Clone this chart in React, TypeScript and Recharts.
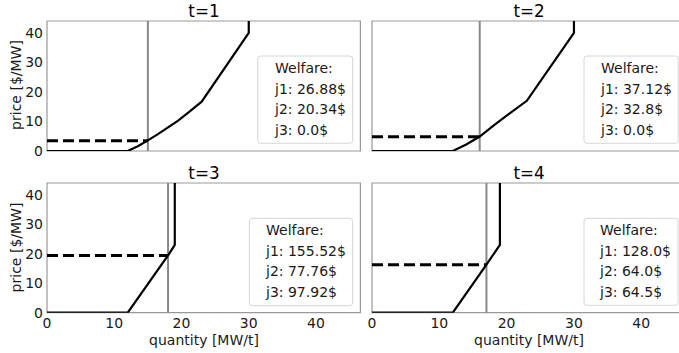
import { LineChart, Line, XAxis, YAxis, ReferenceLine, ReferenceArea } from 'recharts'

const periods = ['t=1', 't=2', 't=3', 't=4']
const clearedQuantity = [15, 16, 18, 17]
const clearedPrice = [3.5, 4.8, 19.4, 16.3]
const welfareJ1 = ['26.88', '37.12', '155.52', '128.0']
const welfareJ2 = ['20.34', '32.8', '77.76', '64.0']
const welfareJ3 = ['0.0', '0.0', '97.92', '64.5']

// supply curves (quantity, price) per period
const supplyQ1 = [0, 12, 13.5, 15, 16.5, 18, 19.5, 21, 23, 30, 30]
const supplyP1 = [0, 0, 1.6, 3.6, 5.7, 8, 10.3, 13, 16.7, 40, 60]
const supplyQ2 = [0, 12, 14, 16, 18, 20, 23, 30, 30]
const supplyP2 = [0, 0, 2.2, 4.9, 8.5, 12, 17, 40, 60]
const supplyQ3 = [0, 12, 18, 19, 19]
const supplyP3 = [0, 0, 19.4, 23, 60]
const supplyQ4 = [0, 12, 17, 19, 19]
const supplyP4 = [0, 0, 16.3, 23, 60]

const supplyQ = [supplyQ1, supplyQ2, supplyQ3, supplyQ4]
const supplyP = [supplyP1, supplyP2, supplyP3, supplyP4]

const xTicks = [0, 10, 20, 30, 40]
const yTicks = [0, 10, 20, 30, 40]
const X_MAX = 46.6
const Y_MAX = 44

const FONT = '"DejaVu Sans", sans-serif'
const SPINE = '#999999'

// plot rectangles + legend boxes
const layout = [
    { px: 47.3, py: 21, pw: 313.4, ph: 130, showX: false, showY: true, bx: 257.7, by: 56, bw: 95, bh: 87.3, tx: 275 },
    { px: 372.3, py: 21, pw: 313.7, ph: 130, showX: false, showY: false, bx: 584, by: 56, bw: 94.3, bh: 87.3, tx: 601 },
    { px: 47.3, py: 183.3, pw: 313.4, ph: 129.7, showX: true, showY: true, bx: 249.3, by: 218.3, bw: 103.4, bh: 87.4, tx: 266 },
    { px: 372.3, py: 183.3, pw: 313.7, ph: 129.7, showX: true, showY: true && false, bx: 584, by: 218.3, bw: 94, bh: 87, tx: 600 }
]

const Panel = ({ i }: { i: number }) => {
    const l = layout[i]
    const curve = supplyQ[i].map((q, k) => ({ x: q, y: supplyP[i][k] }))
    const priceLine = [
        { x: 0, y: clearedPrice[i] },
        { x: clearedQuantity[i], y: clearedPrice[i] }
    ]
    const padL = 50
    const padT = 25
    const yAxisW = l.showY ? padL : 0
    const xAxisH = l.showX ? 30 : 0
    return (
        <div style={{ position: 'absolute', left: l.px - padL, top: l.py - padT }}>
            <LineChart
                width={l.pw + padL + 5}
                height={l.ph + padT + 45}
                margin={{ top: padT, right: 5, bottom: 45 - xAxisH, left: padL - yAxisW }}
            >
                <XAxis
                    type="number"
                    dataKey="x"
                    domain={[0, X_MAX]}
                    ticks={xTicks}
                    allowDataOverflow
                    hide={!l.showX}
                    height={xAxisH}
                    axisLine={false}
                    tickLine={false}
                    tickSize={0}
                    tickMargin={5}
                    tick={{ fill: '#1a1a1a', fontSize: 14, fontFamily: FONT }}
                />
                <YAxis
                    type="number"
                    domain={[0, Y_MAX]}
                    ticks={yTicks}
                    allowDataOverflow
                    hide={!l.showY}
                    width={yAxisW}
                    axisLine={false}
                    tickLine={false}
                    tickSize={0}
                    tickMargin={4}
                    tick={{ fill: '#1a1a1a', fontSize: 14, fontFamily: FONT }}
                />
                <ReferenceArea x1={0} x2={X_MAX} y1={0} y2={Y_MAX} fill="none" fillOpacity={0} stroke={SPINE} strokeWidth={1.2} />
                <ReferenceLine x={clearedQuantity[i]} stroke="#888888" strokeWidth={2} />
                <Line data={curve} dataKey="y" type="linear" stroke="#000" strokeWidth={2.2} dot={false} isAnimationActive={false} />
                <Line data={priceLine} dataKey="y" type="linear" stroke="#000" strokeWidth={3} strokeDasharray="11 5" dot={false} isAnimationActive={false} />
            </LineChart>
        </div>
    )
}

export default function App() {
    return (
        <div style={{ position: 'absolute', left: 0, top: 0, width: 679, height: 353, overflow: 'hidden', background: '#fff' }}>
            {layout.map((_, i) => (
                <Panel key={i} i={i} />
            ))}
            <svg width={679} height={353} style={{ position: 'absolute', left: 0, top: 0, pointerEvents: 'none' }} fontFamily={FONT}>
                {layout.map((l, i) => (
                    <g key={i}>
                        <text x={l.px + l.pw / 2} y={l.py - 4.5} textAnchor="middle" fontSize={16.8} fill="#000">
                            {periods[i]}
                        </text>
                        <rect x={l.bx} y={l.by} width={l.bw} height={l.bh} rx={3} fill="#fff" stroke="#d6d6d6" strokeWidth={1} />
                        <text x={l.tx} y={l.by + 17} fontSize={14} fill="#1a1a1a">Welfare:</text>
                        <text x={l.tx} y={l.by + 37.5} fontSize={14} fill="#1a1a1a">{`j1: ${welfareJ1[i]}$`}</text>
                        <text x={l.tx} y={l.by + 58} fontSize={14} fill="#1a1a1a">{`j2: ${welfareJ2[i]}$`}</text>
                        <text x={l.tx} y={l.by + 78.5} fontSize={14} fill="#1a1a1a">{`j3: ${welfareJ3[i]}$`}</text>
                    </g>
                ))}
                <text transform="translate(20.5, 85) rotate(-90)" textAnchor="middle" fontSize={14} fill="#1a1a1a">price [$/MW]</text>
                <text transform="translate(20.5, 247.5) rotate(-90)" textAnchor="middle" fontSize={14} fill="#1a1a1a">price [$/MW]</text>
                <text x={204} y={344.5} textAnchor="middle" fontSize={14} fill="#1a1a1a">quantity [MW/t]</text>
                <text x={529} y={344.5} textAnchor="middle" fontSize={14} fill="#1a1a1a">quantity [MW/t]</text>
            </svg>
        </div>
    )
}
